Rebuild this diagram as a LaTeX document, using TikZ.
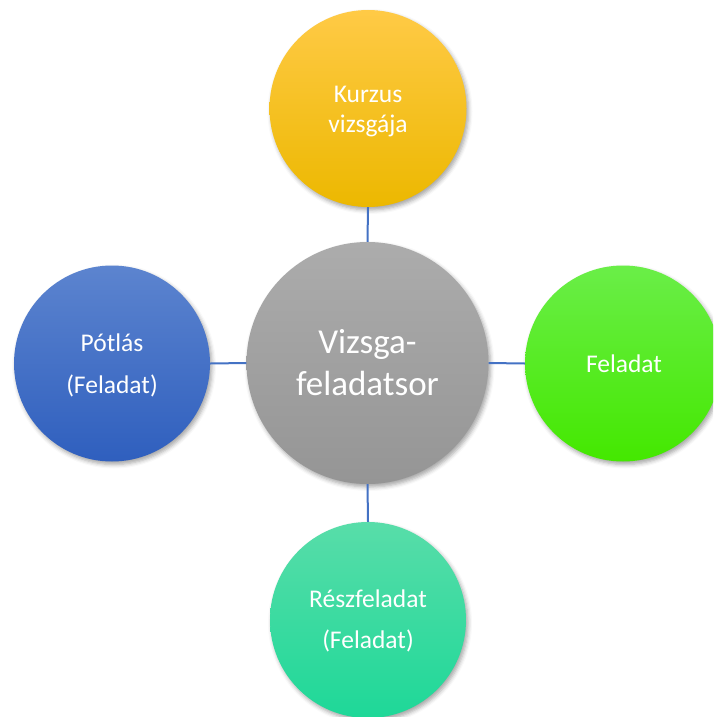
\documentclass[tikz,border=0pt]{standalone}
\usepackage{fontspec}
\setmainfont{Carlito}
\usetikzlibrary{shadows.blur}
\definecolor{linkblue}{HTML}{4472C4}
\tikzset{
  bubble/.style={circle, draw=none, inner sep=0pt, shading=axis,
    blur shadow={shadow xshift=2pt, shadow yshift=-3pt, shadow blur radius=4pt, shadow opacity=35}},
  small/.style={minimum size=196pt},
  big/.style={minimum size=242pt},
  txt/.style={text=white, anchor=base, inner sep=0pt, font=\fontsize{25.5}{30}\selectfont},
  bigtxt/.style={text=white, anchor=base, inner sep=0pt, font=\fontsize{35}{42}\selectfont},
  link/.style={draw=linkblue, line width=2pt}
}
\begin{document}
\begin{tikzpicture}[x=1pt,y=-1pt]
\useasboundingbox (0,0) rectangle (713,717);
\clip (0,0) rectangle (713,717);
% circles
\node[bubble, small, minimum size=197pt, top color={rgb,255:red,255;green,202;blue,70}, middle color={rgb,255:red,255;green,192;blue,0}, bottom color={rgb,255:red,236;green,184;blue,0}] (top) at (368,108.5) {};
\node[bubble, small, top color={rgb,255:red,92;green,132;blue,207}, middle color={rgb,255:red,68;green,114;blue,196}, bottom color={rgb,255:red,47;green,95;blue,190}] (left) at (112,363.5) {};
\node[bubble, small, top color={rgb,255:red,106;green,238;blue,72}, middle color={rgb,255:red,82;green,235;blue,22}, bottom color={rgb,255:red,68;green,232;blue,0}] (right) at (623,363.5) {};
\node[bubble, small, top color={rgb,255:red,88;green,221;blue,169}, middle color={rgb,255:red,45;green,220;blue,158}, bottom color={rgb,255:red,30;green,216;blue,152}] (bottom) at (368,620) {};
\node[bubble, big, top color={rgb,255:red,172;green,172;blue,172}, middle color={rgb,255:red,165;green,165;blue,165}, bottom color={rgb,255:red,149;green,149;blue,149}] (center) at (367.5,363) {};
% connectors
\draw[link] (top.south) -- (center.north);
\draw[link] (center.south) -- (bottom.north);
\draw[link] (left.east) -- (center.west);
\draw[link] (center.east) -- (right.west);
% texts
\node[txt] (t1) at (368,102) {Kurzus};
\node[txt] (t2) at (368,132) {vizsgája};
\node[txt] (l1) at (112,351) {Pótlás};
\node[txt] (l2) at (112,393) {(Feladat)};
\node[txt] (r1) at (624,372) {Feladat};
\node[txt] (b1) at (368,607) {Részfeladat};
\node[txt] (b2) at (368,648) {(Feladat)};
\node[bigtxt] (c1) at (367.5,353) {Vizsga-};
\node[bigtxt] (c2) at (367.5,395) {feladatsor};
\end{tikzpicture}
\end{document}
